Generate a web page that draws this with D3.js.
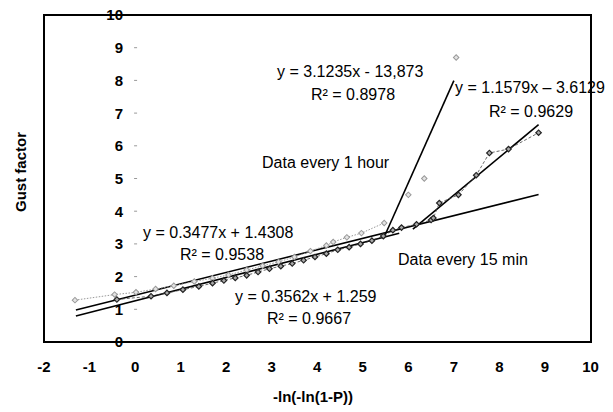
<!DOCTYPE html>
<html>
<head>
<meta charset="utf-8">
<script src="https://cdn.jsdelivr.net/npm/d3@7"></script>
<style>
  body { margin: 0; background: #fff; }
  svg { display: block; font-family: "Liberation Sans", Arial, sans-serif; }
</style>
</head>
<body>
<svg id="chart" width="613" height="412"></svg>
<script>
// data
const hourX = [-1.32, -0.45, 0.02, 0.45, 0.85, 1.3, 1.7, 2.05, 2.45, 2.8, 3.15, 3.5, 3.85, 4.2, 4.35, 4.65, 4.97, 5.47, 6.0, 6.35, 7.05];
const hourY = [1.28, 1.45, 1.52, 1.62, 1.72, 1.85, 1.95, 2.05, 2.2, 2.33, 2.45, 2.6, 2.78, 2.95, 3.06, 3.2, 3.33, 3.64, 4.5, 5.0, 8.7];
const minX = [-0.4, 0.35, 0.7, 1.05, 1.4, 1.7, 1.95, 2.2, 2.45, 2.7, 2.95, 3.2, 3.45, 3.7, 3.95, 4.2, 4.45, 4.7, 4.95, 5.2, 5.45, 5.66, 5.85, 6.18, 6.5, 6.55, 6.68, 7.1, 7.49, 7.78, 8.2, 8.86];
const minY = [1.3, 1.4, 1.5, 1.6, 1.7, 1.8, 1.88, 1.96, 2.04, 2.14, 2.24, 2.32, 2.4, 2.5, 2.6, 2.7, 2.82, 2.9, 3.0, 3.1, 3.24, 3.42, 3.5, 3.6, 3.73, 3.79, 4.25, 4.5, 5.1, 5.78, 5.9, 6.4];

// trendlines: slope, intercept, x range
const trendSlope = [0.3477, 0.3562, 3.1235, 1.1579];
const trendIntercept = [1.4308, 1.259, -13.873, -3.6129];
const trendFrom = [-1.3, -1.3, 5.45, 6.1];
const trendTo = [8.86, 5.8, 7.0, 8.86];

const xTicks = d3.range(-2, 11);
const yTicks = d3.range(0, 11);

const svg = d3.select('#chart');
const x = d3.scaleLinear().domain([-2, 10]).range([44, 590.5]);
const y = d3.scaleLinear().domain([0, 10]).range([342, 15]);

// trendlines
svg.append('g')
    .attr('stroke', '#000')
    .attr('stroke-width', 1.6)
    .selectAll('line')
    .data(trendSlope.map((s, i) => ({s, b: trendIntercept[i], a: trendFrom[i], z: trendTo[i]})))
    .join('line')
    .attr('x1', d => x(d.a))
    .attr('y1', d => y(d.s * d.a + d.b))
    .attr('x2', d => x(d.z))
    .attr('y2', d => y(d.s * d.z + d.b));

const hour = hourX.map((v, i) => [v, hourY[i]]);
const mins = minX.map((v, i) => [v, minY[i]]);
const line = d3.line().x(d => x(d[0])).y(d => y(d[1]));

// connecting lines
svg.append('path')
    .attr('d', line(hour.filter(d => d[0] < 5.5)))
    .attr('fill', 'none')
    .attr('stroke', '#999')
    .attr('stroke-width', 1)
    .attr('stroke-dasharray', '1.5,1.5');
svg.append('path')
    .attr('d', line(mins))
    .attr('fill', 'none')
    .attr('stroke', '#444')
    .attr('stroke-width', 0.8)
    .attr('stroke-dasharray', '3,2');

const diamond = d3.symbol(d3.symbolSquare, 15);

svg.append('g')
    .selectAll('path')
    .data(hour)
    .join('path')
    .attr('d', diamond)
    .attr('transform', d => `translate(${x(d[0])},${y(d[1])}) rotate(45)`)
    .attr('fill', '#e4e4e4')
    .attr('stroke', '#999')
    .attr('stroke-width', 1);

svg.append('g')
    .selectAll('path')
    .data(mins)
    .join('path')
    .attr('d', diamond)
    .attr('transform', d => `translate(${x(d[0])},${y(d[1])}) rotate(45)`)
    .attr('fill', '#aaa')
    .attr('stroke', '#222')
    .attr('stroke-width', 1.2);

// y tick marks and labels (axis crosses at x = 0)
const yAx = svg.append('g');
yAx.selectAll('line')
    .data(yTicks)
    .join('line')
    .attr('x1', x(0) - 1)
    .attr('x2', x(0) + 2)
    .attr('y1', d => y(d))
    .attr('y2', d => y(d))
    .attr('stroke', '#999');
yAx.selectAll('text')
    .data(yTicks)
    .join('text')
    .attr('x', 123)
    .attr('y', d => y(d))
    .attr('dy', '0.36em')
    .attr('text-anchor', 'end')
    .attr('font-size', 15)
    .attr('font-weight', 'bold')
    .text(d => d);

svg.append('g')
    .selectAll('text')
    .data(xTicks)
    .join('text')
    .attr('x', d => x(d))
    .attr('y', 372)
    .attr('text-anchor', 'middle')
    .attr('font-size', 15)
    .attr('font-weight', 'bold')
    .text(d => d);

// frame
svg.append('rect')
    .attr('x', 44)
    .attr('y', 15)
    .attr('width', 547)
    .attr('height', 327)
    .attr('fill', 'none')
    .attr('stroke', '#000')
    .attr('stroke-width', 2);

// axis titles
svg.append('text')
    .attr('x', 313)
    .attr('y', 402)
    .attr('text-anchor', 'middle')
    .attr('font-size', 15)
    .attr('font-weight', 'bold')
    .text('-ln(-ln(1-P))');
svg.append('text')
    .attr('transform', 'translate(26,172) rotate(-90)')
    .attr('text-anchor', 'middle')
    .attr('font-size', 15)
    .attr('font-weight', 'bold')
    .text('Gust factor');

// equations and notes
const notes = [
    ['y = 3.1235x - 13,873', 277, 77],
    ['R² = 0.8978', 311, 100],
    ['Data every 1 hour', 262, 168],
    ['y = 1.1579x \u2013 3.6129', 455, 93],
    ['R² = 0.9629', 489, 117],
    ['y = 0.3477x + 1.4308', 143, 238],
    ['R² = 0.9538', 180, 260],
    ['y = 0.3562x + 1.259', 235, 302],
    ['R² = 0.9667', 267, 324],
    ['Data every 15 min', 398, 265]
];
svg.append('g')
    .selectAll('text')
    .data(notes)
    .join('text')
    .attr('x', d => d[1])
    .attr('y', d => d[2])
    .attr('font-size', 16)
    .text(d => d[0]);
</script>
</body>
</html>
